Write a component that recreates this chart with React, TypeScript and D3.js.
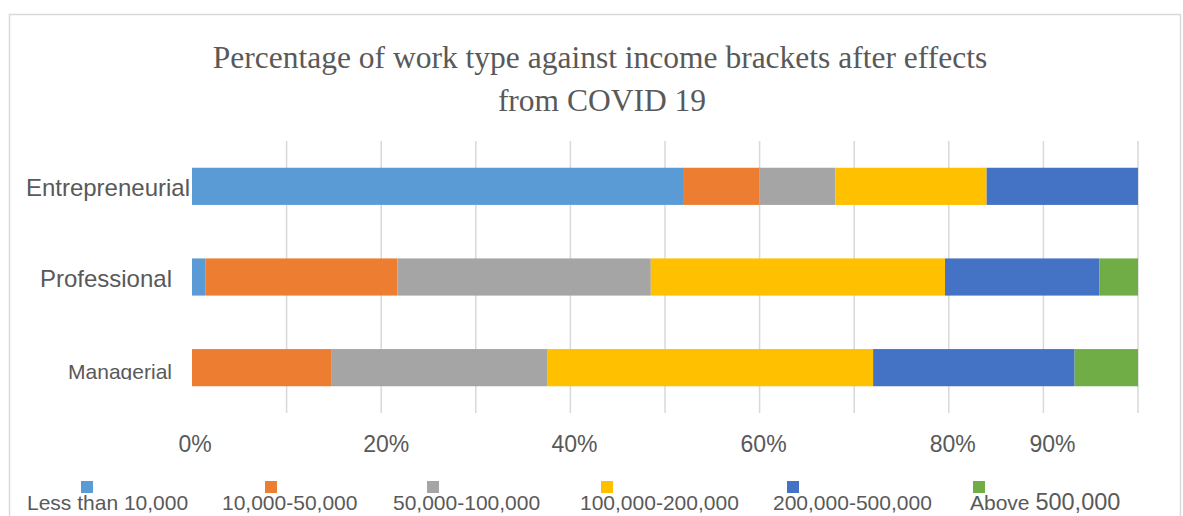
import React from "react";
import * as d3 from "d3";

const categories = ["Entrepreneurial", "Professional", "Managerial"];
const seriesNames = [
  "Less than 10,000",
  "10,000-50,000",
  "50,000-100,000",
  "100,000-200,000",
  "200,000-500,000",
  "Above 500,000",
];
const lessThan10k = [52, 1.4, 0];
const k10to50 = [8, 20.3, 14.7];
const k50to100 = [8, 26.8, 22.9];
const k100to200 = [16, 31.1, 34.4];
const k200to500 = [16, 16.3, 21.3];
const above500k = [0, 4.1, 6.7];
const tickValues = [0, 20, 40, 60, 80, 90];
const gridValues = [10, 20, 30, 40, 50, 60, 70, 80, 90, 100];
const colors = ["#5B9BD5", "#ED7D31", "#A5A5A5", "#FFC000", "#4472C4", "#70AD47"];

// layout (not data)
const W = 1183;
const H = 516;
const labelEndX = [190, 172, 172];
const labelSize = [24, 24, 21];
const labelDy = [9.5, 9.5, 11.5];
const tickDx = [3, 5, 4, 4, 4, 9];
const legendSquareX = [81, 265, 427, 601, 787, 973];
const legendTextX = [27, 222, 393, 580, 773, 970];

export default function App() {
  const seriesValues = [lessThan10k, k10to50, k50to100, k100to200, k200to500, above500k];
  const rows = categories.map((c, i) => {
    const r: any = { cat: c };
    seriesNames.forEach((s, j) => (r[s] = seriesValues[j][i]));
    return r;
  });
  const stacked = d3.stack<any>().keys(seriesNames)(rows);

  const x = d3.scaleLinear().domain([0, 100]).range([192, 1138]);
  const y = d3
    .scaleBand<string>()
    .domain(categories)
    .range([141, 413])
    .paddingInner(0.59)
    .paddingOuter(0.295);

  const textColor = "#595959";
  const sans = "'Liberation Sans', Arial, sans-serif";
  const serif = "'Liberation Serif', 'Times New Roman', serif";

  return (
    <svg
      width={W}
      height={H}
      style={{ position: "absolute", left: 0, top: 0, background: "#fff" }}
    >
      <defs>
        <clipPath id="mclip">
          <rect x={0} y={0} width={W} height={380} />
        </clipPath>
      </defs>
      <rect x={0} y={0} width={W} height={H} fill="#fff" />
      <rect x={9.5} y={14.5} width={1171} height={540} fill="none" stroke="#d9d9d9" strokeWidth={1.5} />

      <text x={600} y={68} textAnchor="middle" fontFamily={serif} fontSize={31.5} fill={textColor}>
        Percentage of work type against income brackets after effects
      </text>
      <text x={602} y={111} textAnchor="middle" fontFamily={serif} fontSize={31.5} fill={textColor}>
        from COVID 19
      </text>

      {gridValues.map((g) => (
        <line key={g} x1={x(g)} x2={x(g)} y1={141} y2={413} stroke="#d9d9d9" strokeWidth={1.5} />
      ))}

      {stacked.map((s, si) => (
        <g key={s.key} fill={colors[si]}>
          {s.map((d, i) => (
            <rect
              key={i}
              x={x(d[0])}
              y={y(categories[i])!}
              width={Math.max(0, x(d[1]) - x(d[0]))}
              height={y.bandwidth()}
            />
          ))}
        </g>
      ))}

      {categories.map((c, i) => (
        <text
          key={c}
          x={labelEndX[i]}
          y={y(c)! + y.bandwidth() / 2 + labelDy[i]}
          textAnchor="end"
          fontFamily={sans}
          fontSize={labelSize[i]}
          fill={textColor}
          clipPath={i === 2 ? "url(#mclip)" : undefined}
        >
          {c}
        </text>
      ))}

      {tickValues.map((t, i) => (
        <text
          key={t}
          x={x(t) + tickDx[i]}
          y={452}
          textAnchor="middle"
          fontFamily={sans}
          fontSize={23}
          fill={textColor}
        >
          {t}%
        </text>
      ))}

      {seriesNames.map((s, i) => (
        <g key={s}>
          <rect x={legendSquareX[i]} y={481} width={12} height={12} fill={colors[i]} />
          <text x={legendTextX[i]} y={510} fontFamily={sans} fontSize={21} fill={textColor}>
            {i === 5 ? (
              <>
                <tspan>Above </tspan>
                <tspan fontSize={23.5}>500,000</tspan>
              </>
            ) : (
              s
            )}
          </text>
        </g>
      ))}
    </svg>
  );
}
